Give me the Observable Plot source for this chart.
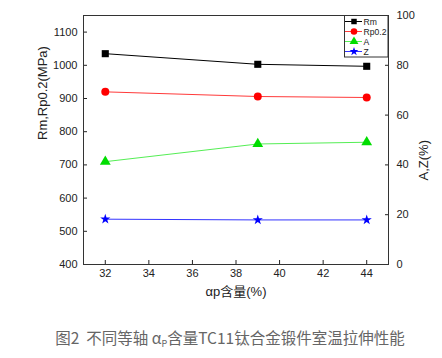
<!DOCTYPE html>
<html><head><meta charset="utf-8">
<script src="https://cdn.jsdelivr.net/npm/d3@7"></script>
<script src="https://cdn.jsdelivr.net/npm/@observablehq/plot@0.6"></script>
<style>
body{margin:0;background:#fff;}
#wrap{position:relative;width:442px;height:358px;overflow:hidden;}
#cap{position:absolute;left:9px;top:326px;width:442px;text-align:center;font-family:"Noto Sans CJK SC",sans-serif;font-size:15.5px;color:#666;line-height:22px;white-space:nowrap;}
#cap sub{font-size:9px;vertical-align:-3px;}
#leg{position:absolute;left:0;top:0;}
</style></head>
<body><div id="wrap"><div id="chart"></div><div id="cap">图2&nbsp; 不同等轴 α<sub>P</sub>含量TC11钛合金锻件室温拉伸性能</div></div>
<script>
const xs = [32, 39, 44];
const rmVals = [1035, 1003, 997];
const rpVals = [920, 906, 903];
const aVals = [41.3, 48.4, 49.1];
const zVals = [18.2, 17.9, 17.9];
const xTicks = [32, 34, 36, 38, 40, 42, 44];
const leftTicks = [400, 500, 600, 700, 800, 900, 1000, 1100];
const rightTicks = [0, 20, 40, 60, 80, 100];
const seriesNames = ["Rm", "Rp0.2", "A", "Z"];
const markColors = ["#000000", "#ff0000", "#00dd00", "#0000ff"];
const lineColors = ["#000000", "#ff3a3a", "#55ee55", "#3333ff"];
const symbols = ["square", "circle", "triangle", "star"];
const onRight = [false, false, true, true];

const leftMin = 400, leftMax = 1150, rightMax = 100;
const toLeft = v => leftMin + v * (leftMax - leftMin) / rightMax;
const toRight = v => (v - leftMin) * rightMax / (leftMax - leftMin);

const valueSets = [rmVals, rpVals, aVals, zVals];
const data = seriesNames.flatMap((name, k) => xs.map((x, i) => ({
  name, x, y: onRight[k] ? toLeft(valueSets[k][i]) : valueSets[k][i]
})));

const chart = Plot.plot({
  width: 442, height: 312,
  marginLeft: 83, marginRight: 54, marginTop: 15, marginBottom: 48,
  style: {fontFamily: "'Liberation Sans', Arial, sans-serif", fontSize: "11px", color: "#222", background: "#fff"},
  x: {domain: [31, 45]},
  y: {domain: [leftMin, leftMax]},
  symbol: {domain: seriesNames, range: symbols},
  marks: [
    Plot.axisX({ticks: xTicks, tickFormat: d3.format("d"), tickSize: -4, tickPadding: 9, label: null}),
    Plot.axisY({ticks: leftTicks, tickFormat: d3.format("d"), tickSize: -4, tickPadding: 10, label: null, anchor: "left"}),
    Plot.axisY({ticks: rightTicks.map(toLeft), tickFormat: d => String(Math.round(toRight(d))), tickSize: -4, tickPadding: 12, label: null, anchor: "right"}),
    ...seriesNames.map((name, k) => Plot.line(data.filter(d => d.name === name), {x: "x", y: "y", stroke: lineColors[k], strokeWidth: 1})),
    ...seriesNames.map((name, k) => Plot.dot(data.filter(d => d.name === name), {x: "x", y: "y", symbol: "name", fill: markColors[k], stroke: "none", r: name === "Z" ? 3.2 : 4})),
    Plot.frame({stroke: "#333", strokeWidth: 1}),
    Plot.text(["αp含量(%)"], {frameAnchor: "bottom", dy: 31, text: d => d, fontSize: 13, fill: "#222", fontFamily: "'Liberation Sans', 'Noto Sans CJK SC', sans-serif"}),
    Plot.text(["Rm,Rp0.2(MPa)"], {frameAnchor: "left", dx: -41, rotate: -90, text: d => d, fontSize: 13, fill: "#222"}),
    Plot.text(["A,Z(%)"], {frameAnchor: "right", dx: 35, rotate: -90, text: d => d, fontSize: 13, fill: "#222"})
  ]
});
document.getElementById("chart").appendChild(chart);

// legend overlay
const leg = d3.select("#wrap").append("svg").attr("id", "leg").attr("width", 442).attr("height", 70);
leg.append("rect").attr("x", 344.5).attr("y", 15.5).attr("width", 43.5).attr("height", 41.5).attr("fill", "#fff").attr("stroke", "#333");
const symMap = {square: d3.symbolSquare, circle: d3.symbolCircle, triangle: d3.symbolTriangle, star: d3.symbolStar};
const symSize = [30, 34, 34, 24];
seriesNames.forEach((name, k) => {
  const cy = 21.5 + k * 10;
  const g = leg.append("g");
  g.append("line").attr("x1", 345).attr("x2", 362).attr("y1", cy).attr("y2", cy).attr("stroke", lineColors[k]).attr("stroke-width", 1);
  g.append("path").attr("d", d3.symbol(symMap[symbols[k]], symSize[k])()).attr("transform", `translate(354,${cy})`).attr("fill", markColors[k]);
  g.append("text").attr("x", 363.5).attr("y", cy).attr("dy", "0.35em").attr("font-size", 8.6).attr("fill", "#222")
    .attr("font-family", "'Liberation Sans', Arial, sans-serif").text(name);
});
</script></body></html>
